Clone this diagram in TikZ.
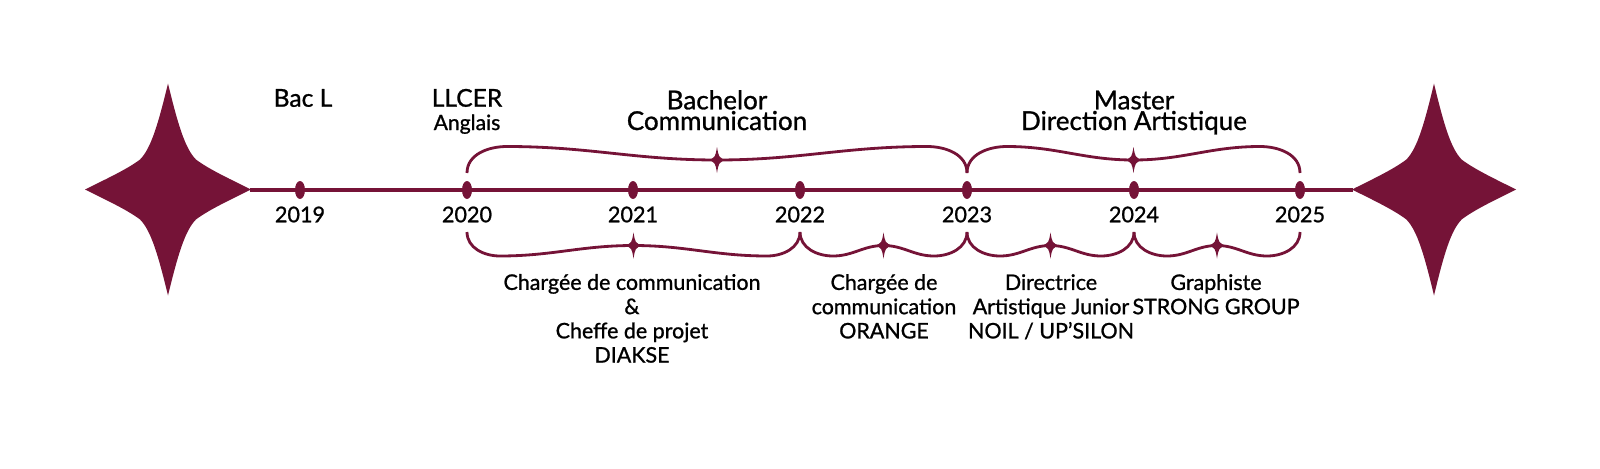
\documentclass[tikz,border=0pt]{standalone}
\usepackage{fontspec}
\setmainfont{Lato}[FakeBold=1]
\usetikzlibrary{calc,shapes.geometric}
\definecolor{wine}{RGB}{117,19,55}

\begin{document}
\begin{tikzpicture}[x=0.02cm,y=0.02cm,
    axisline/.style={draw=wine,line width=1.8pt},
    brace/.style={draw=wine,line width=1.6pt},
    dot/.style={ellipse,fill=wine,inner sep=0pt,minimum width=0.2cm,minimum height=0.36cm},
    year/.style={font=\fontsize{12.3}{14}\selectfont},
    title/.style={font=\fontsize{14.8}{14}\selectfont,anchor=base,inner sep=1pt},
    job/.style={font=\fontsize{12.2}{13.8}\selectfont,align=center,anchor=base},
    sparkle/.pic={\fill[wine] (0,1) .. controls (-0.12,0.613) and (-0.205,0.387) .. (-0.337,0.283)
      .. controls (-0.494,0.189) and (-0.783,0.085) .. (-1,0)
      .. controls (-0.783,-0.085) and (-0.494,-0.189) .. (-0.337,-0.283)
      .. controls (-0.205,-0.387) and (-0.12,-0.613) .. (0,-1)
      .. controls (0.12,-0.613) and (0.205,-0.387) .. (0.337,-0.283)
      .. controls (0.494,-0.189) and (0.783,-0.085) .. (1,0)
      .. controls (0.783,0.085) and (0.494,0.189) .. (0.337,0.283)
      .. controls (0.205,0.387) and (0.12,0.613) .. cycle;}]
  \useasboundingbox (0,0) rectangle (1600,468);

  % big stars at both ends
  \pic[xscale=83,yscale=106] at (168,278.5) {sparkle};
  \pic[xscale=82,yscale=106] at (1434,278.5) {sparkle};
  \coordinate (west) at (250,278);
  \coordinate (east) at (1353,278);
  \draw[axisline] (west) -- (east);

  % years
  \foreach \yr/\x in {2019/300,2020/467,2021/633,2022/800,2023/967,2024/1134,2025/1300}{
    \node[dot] (d\yr) at (\x,278) {};
    \node[year] (l\yr) at (\x,253.5) {\yr};
  }

  % braces above
  \foreach \a/\b in {d2020/d2023,d2023/d2025}{
    \draw[brace] ($(\a)+(0,17)$) to[out=90,in=180] ($(\a)+(40,43.5)$)
      to[out=0,in=180] ($(\a)!0.5!(\b)+(0,30)$)
      to[out=0,in=180] ($(\b)+(-40,43.5)$) to[out=0,in=90] ($(\b)+(0,17)$);
    \pic[xscale=7,yscale=13] at ($(\a)!0.5!(\b)+(0,30)$) {sparkle};
  }
  % braces below
  \foreach \a/\b in {d2020/d2022,d2022/d2023,d2023/d2024,d2024/d2025}{
    \draw[brace] ($(\a)+(0,-42)$) to[out=-90,in=180] ($(\a)+(33,-66)$)
      to[out=0,in=180] ($(\a)!0.5!(\b)+(0,-55.5)$)
      to[out=0,in=180] ($(\b)+(-33,-66)$) to[out=0,in=-90] ($(\b)+(0,-42)$);
    \pic[xscale=7,yscale=13] at ($(\a)!0.5!(\b)+(0,-55.5)$) {sparkle};
  }

  % studies
  \node[title,font=\fontsize{14}{14}\selectfont] (bac) at (303,361.3) {Bac L};
  \node[title,font=\fontsize{14}{14}\selectfont] (llcer) at (467,361.3) {LLCER};
  \node[title,font=\fontsize{12}{12}\selectfont] (anglais) at (467,338) {Anglais};
  \node[title] (bachelor) at (717,358.7) {Bachelor};
  \node[title] (communication) at (717,338) {Communication};
  \node[title] (master) at (1134,358.7) {Master};
  \node[title] (direction) at (1134,338) {Direction Artistique};

  % jobs
  \node[job] (diakse) at (632,105.4) {Chargée de communication\\\&\\Cheffe de projet\\DIAKSE};
  \node[job] (orange) at (884,129.6) {Chargée de\\communication\\ORANGE};
  \node[job] (noil) at (1051,129.6) {Directrice\\Artistique Junior\\NOIL / UP'SILON};
  \node[job] (strong) at (1216,153.8) {Graphiste\\STRONG GROUP};
\end{tikzpicture}
\end{document}
